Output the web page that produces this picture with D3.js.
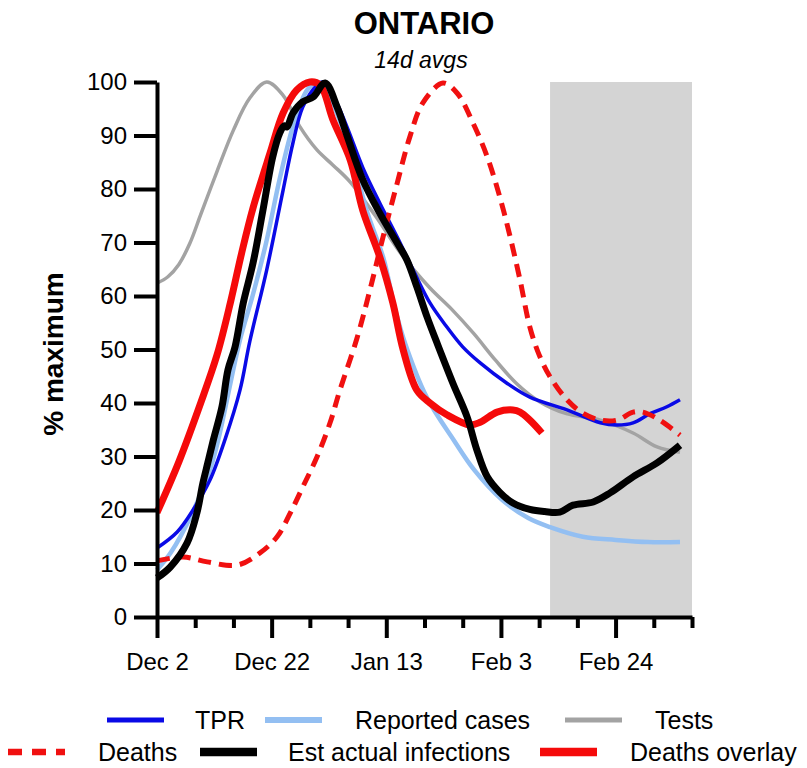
<!DOCTYPE html>
<html><head><meta charset="utf-8">
<script src="https://cdn.jsdelivr.net/npm/d3@7"></script>
<style>
body{margin:0;background:#fff}
svg{display:block}
text{font-family:"Liberation Sans",Arial,sans-serif;fill:#000}
</style>
</head><body>
<svg id="chart" width="807" height="768"></svg>
<script>
// ---- data (x = days since Dec 2, y = % of maximum) ----
const xTickDays = [0,7,14,21,28,35,42,49,56,63,70,77,84,91,98];
const xTickLabels = ["Dec 2","","","Dec 22","","","Jan 13","","","Feb 3","","","Feb 24","",""];
const yTicks = [0,10,20,30,40,50,60,70,80,90,100];
const shadeRange = [72, 98];

const tpr = [[0,12.9],[3.7,15.9],[6.6,20],[9.7,25.6],[12.5,33.3],[15.2,42.4],[17,51.5],[20.1,64.9],[23.1,79.8],[24.9,88.6],[26.7,95.3],[29.3,99.4],[30.4,100],[32.5,97],[34.8,91.6],[37.7,84],[40.8,77.4],[44,71],[46.9,64.9],[50,58.7],[53.1,54.2],[56,50.5],[59.2,47.5],[64.1,43.7],[68.3,41.1],[75.1,38.7],[81.2,36.3],[84.3,35.9],[87.2,36.3],[90.3,38],[93.4,39.3],[95.8,40.6]];
const reported = [[0,8.8],[2.5,12],[6.5,19.5],[9.7,27.5],[11.2,33],[15.2,51.8],[17.5,60],[20,70],[22.5,82],[25,92],[27.5,98.5],[29.5,100],[31,99],[33,94],[35.5,87],[38.4,76],[41.5,67],[43.5,58],[45.5,51],[49.4,41.1],[54.4,33],[58.1,27.5],[63.2,21.9],[68,18.5],[72,16.8],[78,15],[84,14.4],[90,14],[95.8,14]];
const tests = [[0,62.4],[2,63.6],[4,65.9],[6,69.8],[8,75.2],[11,83.3],[14,91],[17,97],[20.1,100],[23.1,97.5],[26.2,91.6],[29.3,87.3],[32.2,84.5],[35.4,81.3],[40,75],[45,67.5],[50,61.5],[54,57.5],[58,53],[62,48],[66,43.5],[70,40.3],[75,38],[81.2,36.8],[87.2,34.4],[91.6,31.8],[95.8,30.8]];
const deaths = [[0,10.5],[4.8,11.2],[9.2,10.3],[14.7,9.7],[18.9,12],[22,15],[24.4,19.4],[26.7,24.3],[29.3,29.9],[31.7,36.3],[33.5,42.4],[36.6,52],[39,61.1],[41.4,71],[44,81.1],[46.3,89.7],[48.7,96.1],[52.4,99.8],[55,97.9],[57.9,92.3],[60.5,86],[62.8,78.5],[64.7,71],[66.5,63],[68.3,54.2],[70,49],[72,44.9],[75.1,40.6],[78,38.1],[81.2,36.8],[84.3,36.8],[87.2,38.3],[89,38.3],[92.1,36.8],[95.8,34]];
const infections = [[0,7.3],[2.4,9.3],[5.5,13.8],[7.3,19.4],[8.4,25],[9.3,28.8],[10.3,33],[11.9,39.3],[13,46.2],[14.3,50.5],[15.8,58.7],[17.6,66.2],[19.4,76],[21.2,86],[22.5,90.5],[23.3,91.8],[23.8,91.6],[24.9,94.2],[26.7,96.3],[28.6,97.2],[30.8,99.8],[33,95.3],[34.8,90],[37.7,81.7],[40.8,75.5],[44,69.9],[45.8,66.7],[47.6,61.7],[49.5,56],[51.3,51.2],[54.2,43.7],[56.8,37.4],[58.6,31.2],[60.5,26.2],[62.8,23.3],[65.2,21.3],[68.3,20.1],[71,19.7],[73.8,19.6],[76.2,20.9],[79.9,21.5],[83,23.2],[87.2,26.2],[91.6,28.8],[95.8,32.1]];
const deathsOverlay = [[0,19.5],[4,29],[8,40],[11,49],[13.5,59],[15.5,68],[17.6,76.5],[20.7,86.7],[23.1,94.2],[25.6,98.5],[28,100],[29.9,99.4],[32.2,93],[35.4,85.4],[37.7,76],[40.8,67.3],[43.2,58.7],[45.1,49.9],[47.6,42.4],[50,40],[53.1,37.8],[57.3,35.9],[59.2,36.4],[62.3,38.3],[65.2,38.7],[66.5,38.3],[68.3,36.8],[70.5,34.4]];

// ---- series definitions (draw order) ----
const series = [
  {name:"Tests", data:tests, color:"#a3a3a3", width:3.5, dash:null},
  {name:"Reported cases", data:reported, color:"#93bff2", width:4.5, dash:null},
  {name:"TPR", data:tpr, color:"#0a0ae6", width:3.5, dash:null},
  {name:"Deaths", data:deaths, color:"#f01010", width:5, dash:"13,8"},
  {name:"Deaths overlay", data:deathsOverlay, color:"#f50a0a", width:7, dash:null},
  {name:"Est actual infections", data:infections, color:"#000", width:7, dash:null}
];

const svg = d3.select("#chart");
const x = d3.scaleLinear().domain([0,98]).range([157,692]);
const y = d3.scaleLinear().domain([0,100]).range([617,82]);

// shaded projection region
svg.append("rect")
  .attr("x", x(shadeRange[0])).attr("y", y(100))
  .attr("width", x(shadeRange[1]) - x(shadeRange[0]))
  .attr("height", y(0) - y(100))
  .attr("fill", "#d4d4d4");

// lines
const line = d3.line().x(d => x(d[0])).y(d => y(d[1])).curve(d3.curveCatmullRom.alpha(0.5));
series.forEach(s => {
  svg.append("path").datum(s.data)
    .attr("d", line)
    .attr("fill", "none")
    .attr("stroke", s.color)
    .attr("stroke-width", s.width)
    .attr("stroke-linejoin", "round")
    .attr("stroke-dasharray", s.dash);
});

// y axis
const yAxis = svg.append("g").attr("transform", `translate(${x(0)},0)`)
  .call(d3.axisLeft(y).tickValues(yTicks).tickSize(23).tickSizeOuter(0).tickPadding(7));
yAxis.select(".domain").attr("stroke-width", 4).attr("stroke", "#000");
yAxis.selectAll(".tick line").attr("stroke-width", 4).attr("stroke", "#000");
yAxis.selectAll(".tick text").style("font-size", "24px").attr("fill", "#000");

// x axis
const xAxis = svg.append("g").attr("transform", `translate(0,${y(0)})`)
  .call(d3.axisBottom(x).tickValues(xTickDays).tickSize(21).tickSizeOuter(0).tickPadding(15)
    .tickFormat((d,i) => xTickLabels[i]));
xAxis.select(".domain").attr("stroke-width", 4).attr("stroke", "#000");
xAxis.selectAll(".tick line").attr("stroke-width", 4).attr("stroke", "#000")
  .attr("y2", (d,i) => xTickLabels[i] ? 21 : 11);
xAxis.selectAll(".tick text").style("font-size", "24px").attr("fill", "#000");

// titles
svg.append("text").attr("x", 424).attr("y", 34).attr("text-anchor", "middle")
  .style("font-size", "31px").style("font-weight", "bold").text("ONTARIO");
svg.append("text").attr("x", 421).attr("y", 68).attr("text-anchor", "middle")
  .style("font-size", "23px").style("font-style", "italic").text("14d avgs");
svg.append("text").attr("transform", "translate(63,354) rotate(-90)").attr("text-anchor", "middle")
  .style("font-size", "28px").style("font-weight", "bold").text("% maximum");

// legend
const legendItems = [
  {name:"TPR", row:0, x1:107, tx:195},
  {name:"Reported cases", row:0, x1:265, tx:355},
  {name:"Tests", row:0, x1:565, tx:655},
  {name:"Deaths", row:1, x1:8, tx:98},
  {name:"Est actual infections", row:1, x1:200, tx:288},
  {name:"Deaths overlay", row:1, x1:540, tx:630}
];
const rowY = [720, 752];
legendItems.forEach(it => {
  const s = series.find(d => d.name === it.name);
  const ly = rowY[it.row];
  svg.append("line").attr("x1", it.x1).attr("x2", it.x1 + 57).attr("y1", ly).attr("y2", ly)
    .attr("stroke", s.color)
    .attr("stroke-width", s.width + 1.5)
    .attr("stroke-dasharray", s.dash ? "14,10" : null);
  svg.append("text").attr("x", it.tx).attr("y", ly + 9).style("font-size", "25px").text(it.name);
});
</script>
</body></html>
